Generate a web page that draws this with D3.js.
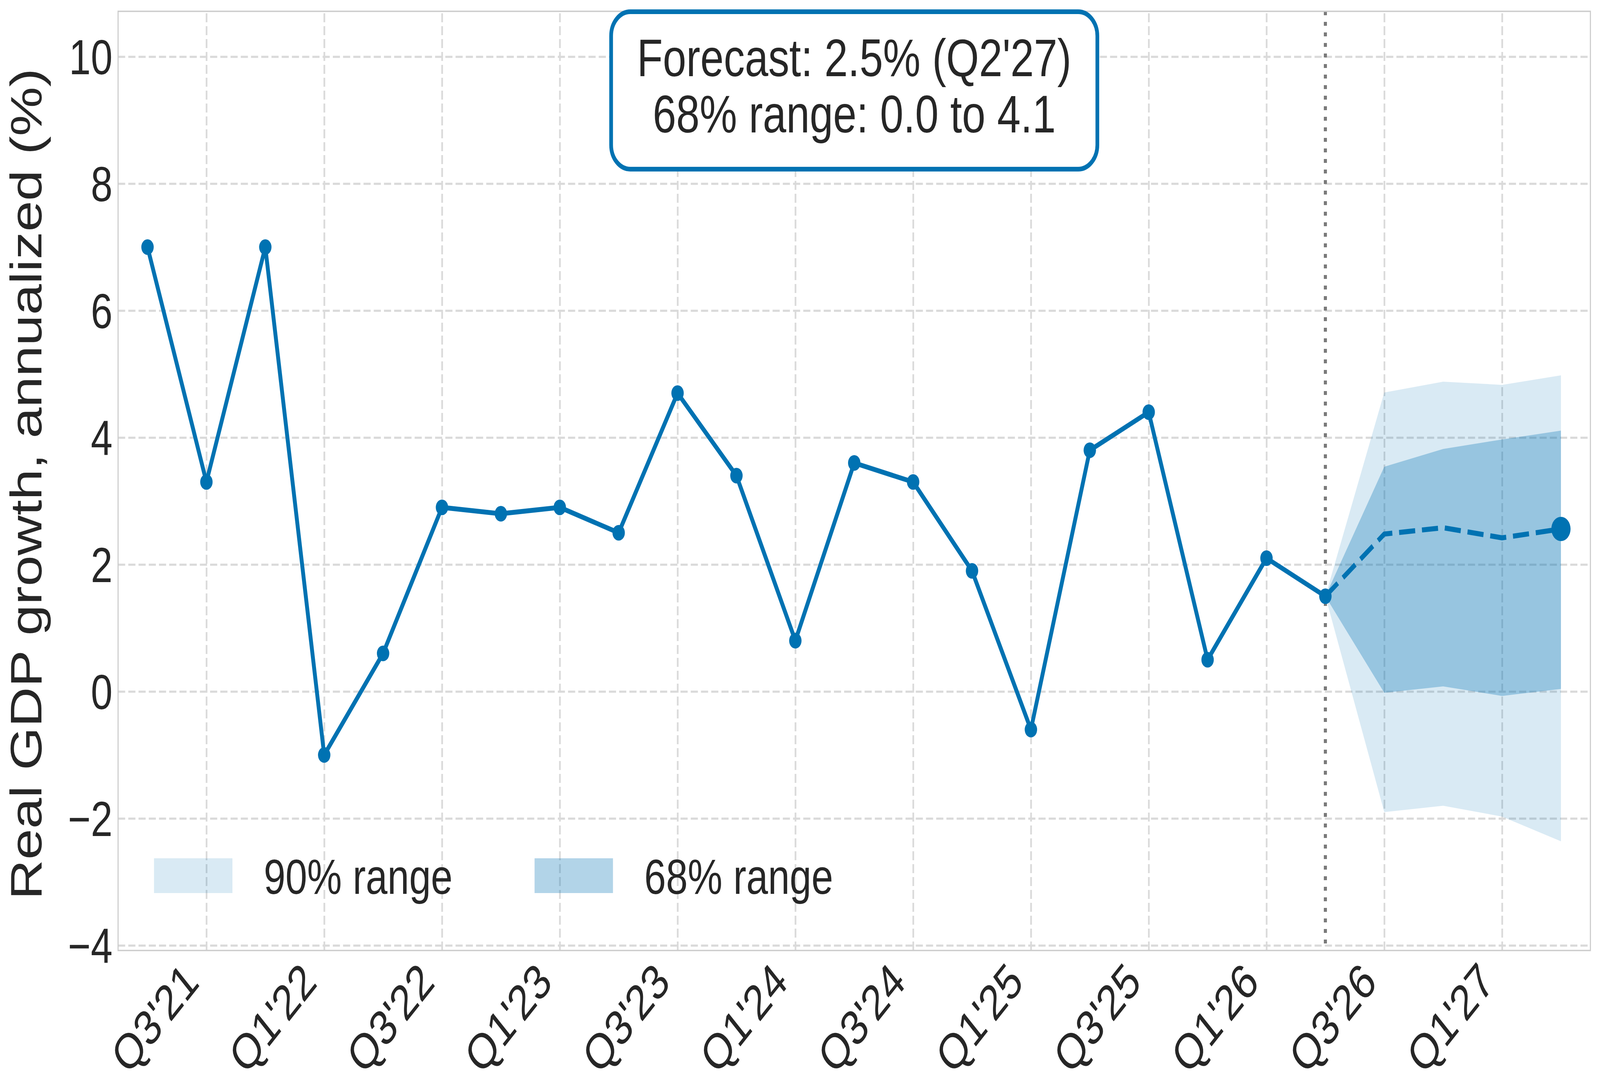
<!DOCTYPE html>
<html>
<head>
<meta charset="utf-8">
<script src="https://cdn.jsdelivr.net/npm/d3@7"></script>
<style>
  html, body { margin: 0; padding: 0; background: #ffffff; overflow: hidden; width: 100%; height: 100%; }
  svg { display: block; width: 100vw; height: 100vh; }
  text { font-family: "Liberation Sans", Arial, "DejaVu Sans", sans-serif; fill: #262626; }
</style>
</head>
<body>
<svg id="chart"></svg>
<script>
// ---------------- data ----------------
const quarters = ["Q2'21","Q3'21","Q4'21","Q1'22","Q2'22","Q3'22","Q4'22","Q1'23","Q2'23","Q3'23","Q4'23","Q1'24","Q2'24","Q3'24","Q4'24","Q1'25","Q2'25","Q3'25","Q4'25","Q1'26","Q2'26","Q3'26","Q4'26","Q1'27","Q2'27"];
const actualGrowth = [7.0, 3.3, 7.0, -1.0, 0.6, 2.9, 2.8, 2.9, 2.5, 4.7, 3.4, 0.8, 3.6, 3.3, 1.9, -0.6, 3.8, 4.4, 0.5, 2.1, 1.5];
const forecastQuarters = ["Q2'26","Q3'26","Q4'26","Q1'27","Q2'27"];
const forecastMedian = [1.5, 2.48, 2.58, 2.42, 2.56];
const band90Low  = [1.5, -1.90, -1.80, -1.97, -2.36];
const band90High = [1.5, 4.71, 4.88, 4.83, 4.98];
const band68Low  = [1.5, -0.02, 0.08, -0.07, 0.04];
const band68High = [1.5, 3.54, 3.82, 3.97, 4.11];
const xTickLabels = ["Q3'21","Q1'22","Q3'22","Q1'23","Q3'23","Q1'24","Q3'24","Q1'25","Q3'25","Q1'26","Q3'26","Q1'27"];
const yTicks = [-4, -2, 0, 2, 4, 6, 8, 10];
const forecastStart = "Q2'26";
const annotationLines = ["Forecast: 2.5% (Q2'27)", "68% range: 0.0 to 4.1"];
const legendLabels = ["90% range", "68% range"];
const yLabel = "Real GDP growth, annualized (%)";

// ---------------- layout ----------------
const W = 5163, H = 2785;
const plot = { left: 381, right: 5132, top: 29, bottom: 2433 };
const blue = "#0072B2";
const FS = 126;

const svg = d3.select("#chart")
  .attr("viewBox", `0 0 ${W} ${H}`)
  .attr("preserveAspectRatio", "none");
svg.append("rect").attr("width", W).attr("height", H).attr("fill", "#ffffff");

const idx = q => quarters.indexOf(q);
const x = d3.scaleLinear().domain([-0.5, quarters.length - 0.5]).range([plot.left, plot.right]);
const y = d3.scaleLinear().domain([-4.08, 10.714]).range([plot.bottom, plot.top]);
const xTickVals = xTickLabels.map(idx);

// grid
const gridStyle = g => {
  g.select(".domain").remove();
  g.selectAll("line").attr("stroke", "#dadada").attr("stroke-width", 5.5).attr("stroke-dasharray", "23,10");
};
svg.append("g").attr("transform", `translate(0,${plot.bottom})`)
  .call(d3.axisBottom(x).tickValues(xTickVals).tickSize(-(plot.bottom - plot.top)).tickFormat(""))
  .call(gridStyle);
svg.append("g").attr("transform", `translate(${plot.left},0)`)
  .call(d3.axisLeft(y).tickValues(yTicks).tickSize(-(plot.right - plot.left)).tickFormat(""))
  .call(gridStyle);

// bands
const fc = forecastQuarters.map((q, i) => ({ i: idx(q), m: forecastMedian[i], l90: band90Low[i], h90: band90High[i], l68: band68Low[i], h68: band68High[i] }));
svg.append("path").datum(fc)
  .attr("d", d3.area().x(d => x(d.i)).y0(d => y(d.l90)).y1(d => y(d.h90)))
  .attr("fill", blue).attr("fill-opacity", 0.15);
svg.append("path").datum(fc)
  .attr("d", d3.area().x(d => x(d.i)).y0(d => y(d.l68)).y1(d => y(d.h68)))
  .attr("fill", blue).attr("fill-opacity", 0.3);

// vertical dotted line at forecast start
svg.append("line")
  .attr("x1", x(idx(forecastStart))).attr("x2", x(idx(forecastStart)))
  .attr("y1", plot.top).attr("y2", plot.bottom)
  .attr("stroke", "#7a7a7a").attr("stroke-width", 10).attr("stroke-dasharray", "10,17");

// spines
svg.append("rect")
  .attr("x", plot.left).attr("y", plot.top)
  .attr("width", plot.right - plot.left).attr("height", plot.bottom - plot.top)
  .attr("fill", "none").attr("stroke", "#cccccc").attr("stroke-width", 3.5);

// actual line
const act = actualGrowth.map((v, i) => ({ i, v }));
svg.append("path").datum(act)
  .attr("d", d3.line().x(d => x(d.i)).y(d => y(d.v)))
  .attr("fill", "none").attr("stroke", blue).attr("stroke-width", 12.5)
  .attr("stroke-linejoin", "round").attr("stroke-linecap", "round");
svg.append("g").selectAll("circle").data(act).join("circle")
  .attr("cx", d => x(d.i)).attr("cy", d => y(d.v)).attr("r", 20).attr("fill", blue);

// forecast line
svg.append("path").datum(fc)
  .attr("d", d3.line().x(d => x(d.i)).y(d => y(d.m)))
  .attr("fill", "none").attr("stroke", blue).attr("stroke-width", 13)
  .attr("stroke-dasharray", "52,22").attr("stroke-linejoin", "round");
const last = fc[fc.length - 1];
svg.append("circle").attr("cx", x(last.i)).attr("cy", y(last.m)).attr("r", 31).attr("fill", blue);

// axes labels
const yAx = svg.append("g").attr("transform", `translate(${plot.left},0)`)
  .call(d3.axisLeft(y).tickValues(yTicks).tickSize(0).tickPadding(18).tickFormat(d3.format("d")));
yAx.select(".domain").remove();
yAx.selectAll("text").attr("font-size", FS).attr("dy", "0.355em").attr("fill", "#262626")
  .style("font-family", "'Liberation Sans', Arial, sans-serif");

const xAx = svg.append("g").attr("transform", `translate(0,${plot.bottom})`)
  .call(d3.axisBottom(x).tickValues(xTickVals).tickSize(0).tickFormat(d => quarters[d]));
xAx.select(".domain").remove();
xAx.selectAll("text").attr("font-size", FS).attr("fill", "#262626")
  .attr("x", 0).attr("y", 0).attr("dy", 0)
  .attr("text-anchor", "end")
  .attr("transform", `translate(${-0.15 * FS},${6 + 0.64 * FS}) rotate(-45)`)
  .style("font-family", "'Liberation Sans', Arial, sans-serif");

svg.append("text")
  .attr("transform", `translate(134,${(plot.top + plot.bottom) / 2 + 8}) rotate(-90)`)
  .attr("text-anchor", "middle").attr("font-size", 142).text(yLabel);

// legend
const legX = [497, 1725];
const legOp = [0.15, 0.3];
legendLabels.forEach((lab, i) => {
  svg.append("rect").attr("x", legX[i]).attr("y", 2197).attr("width", 253).attr("height", 89)
    .attr("fill", blue).attr("fill-opacity", legOp[i]);
  svg.append("text").attr("x", legX[i] + 253 + 101).attr("y", 2288).attr("font-size", FS).text(lab);
});

// annotation box
const cx = (plot.left + plot.right) / 2;
const boxW = 1569, boxTop = 30, boxBottom = 433;
svg.append("rect")
  .attr("x", cx - boxW / 2).attr("y", boxTop).attr("width", boxW).attr("height", boxBottom - boxTop)
  .attr("rx", 62).attr("ry", 62)
  .attr("fill", "#ffffff").attr("stroke", blue).attr("stroke-width", 12);
annotationLines.forEach((t, i) => {
  svg.append("text").attr("x", cx).attr("y", 195 + i * 144)
    .attr("text-anchor", "middle").attr("font-size", 136).text(t);
});
</script>
</body>
</html>
